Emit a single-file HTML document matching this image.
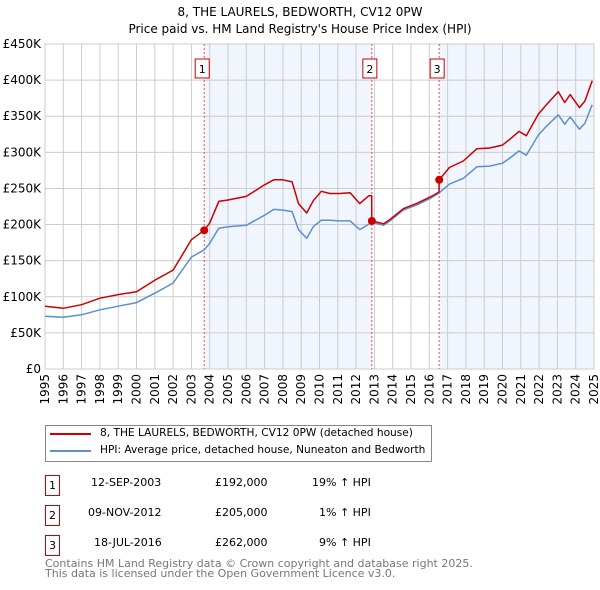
<!DOCTYPE html>
<html><head><meta charset="utf-8"><style>
body{margin:0;background:#fff;font-family:"DejaVu Sans","Liberation Sans",sans-serif;}
#wrap{position:relative;width:600px;height:590px;overflow:hidden;}
.t{position:absolute;font-size:11px;color:#000;white-space:nowrap;}
.lg{font-size:10.6px;}
.box{position:absolute;border:1px solid #c00;width:13px;height:19px;font-size:11px;text-align:center;line-height:19px;background:#fff;}
</style></head><body><div id="wrap">
<svg id="chart" width="600" height="420" style="position:absolute;left:0;top:0"></svg>
<div style="position:absolute;left:45px;top:425px;width:385px;height:35px;border:1px solid #888;"></div>
<div style="position:absolute;left:50px;top:433px;width:41px;height:2px;background:#c00"></div>
<div class="t lg" style="left:100px;top:427px;">8, THE LAURELS, BEDWORTH, CV12 0PW (detached house)</div>
<div style="position:absolute;left:50px;top:450px;width:41px;height:2px;background:#5b8fd4"></div>
<div class="t lg" style="left:100px;top:444px;">HPI: Average price, detached house, Nuneaton and Bedworth</div>
<div class="box" style="left:45px;top:475px;">1</div>
<div class="t" style="left:91px;top:476px;">12-SEP-2003</div>
<div class="t" style="left:215px;top:476px;">£192,000</div>
<div class="t" style="left:312px;top:476px;">19% ↑ HPI</div>
<div class="box" style="left:45px;top:505px;">2</div>
<div class="t" style="left:88px;top:506px;">09-NOV-2012</div>
<div class="t" style="left:215px;top:506px;">£205,000</div>
<div class="t" style="left:319px;top:506px;">1% ↑ HPI</div>
<div class="box" style="left:45px;top:535px;">3</div>
<div class="t" style="left:94px;top:536px;">18-JUL-2016</div>
<div class="t" style="left:215px;top:536px;">£262,000</div>
<div class="t" style="left:319px;top:536px;">9% ↑ HPI</div>
<div class="t" style="left:45px;top:559px;color:#777;line-height:10px;">Contains HM Land Registry data © Crown copyright and database right 2025.<br>This data is licensed under the Open Government Licence v3.0.</div>
</div>
<script>
const hpiYears=[1995,1996,1997,1998,1999,2000,2001,2002,2003,2003.7,2004,2004.5,2005,2006,2007,2007.5,2008,2008.5,2008.85,2009.3,2009.66,2010.1,2010.57,2011.1,2011.67,2012.2,2012.86,2013.5,2013.85,2014.58,2015.3,2016.04,2016.5,2017.1,2017.86,2018.6,2019.3,2020,2020.4,2020.9,2021.3,2021.96,2022.4,2023.05,2023.4,2023.7,2024.2,2024.5,2024.9];
const hpiValues=[73000,71600,75000,82000,87000,92000,105000,119000,155000,165000,174000,195000,197000,199000,213000,221000,220000,218000,193000,181000,197000,206000,206000,205000,205000,193000,203000,199000,205000,220000,227000,236000,243000,256000,264000,280000,281000,285000,292000,302000,296000,324000,336000,352000,339000,349000,332000,340000,366000];
const propYears=[1995,1996,1997,1998,1999,2000,2001,2002,2002.5,2003,2003.7,2004,2004.5,2005,2006,2007,2007.5,2008,2008.5,2008.85,2009.3,2009.66,2010.1,2010.57,2011.1,2011.67,2012.2,2012.7,2012.85,2012.86,2013.5,2013.85,2014.58,2015.3,2016.04,2016.53,2016.54,2017.1,2017.86,2018.6,2019.3,2020,2020.4,2020.9,2021.3,2021.96,2022.4,2023.05,2023.4,2023.7,2024.2,2024.5,2024.9];
const propValues=[87000,84000,89000,98000,103000,107000,123000,137000,158000,179000,192000,202000,232000,234000,239000,255000,262000,262000,259000,229000,216000,233000,246000,243000,243000,244000,229000,240000,240000,205000,201000,207000,222000,229000,238000,245000,262000,279000,288000,305000,306000,310000,318000,329000,323000,353000,366000,384000,369000,380000,362000,371000,399000];
const saleLabels=["1","2","3"];
const saleYears=[2003.7,2012.86,2016.54];
const salePrices=[192000,205000,262000];
const yTicks=[0,50000,100000,150000,200000,250000,300000,350000,400000,450000];
const yTickLabels=["£0","£50K","£100K","£150K","£200K","£250K","£300K","£350K","£400K","£450K"];
const xTicks=[1995,1996,1997,1998,1999,2000,2001,2002,2003,2004,2005,2006,2007,2008,2009,2010,2011,2012,2013,2014,2015,2016,2017,2018,2019,2020,2021,2022,2023,2024,2025];

const NS="http://www.w3.org/2000/svg";
const svg=document.getElementById('chart');
const X0=45,X1=594,Y0=369,Y1=44;
const xs=y=>X0+(y-1995)/30*(X1-X0);
const ys=v=>Y0-v/450000*(Y0-Y1);
function el(tag,attrs){const e=document.createElementNS(NS,tag);for(const k in attrs)e.setAttribute(k,attrs[k]);svg.appendChild(e);return e;}
let t=el('text',{x:300,y:16,'text-anchor':'middle','font-size':12,'font-family':'DejaVu Sans,Liberation Sans,sans-serif'});t.textContent='8, THE LAURELS, BEDWORTH, CV12 0PW';


t=el('text',{x:300,y:33,'text-anchor':'middle','font-size':12,'font-family':'DejaVu Sans,Liberation Sans,sans-serif'});t.textContent="Price paid vs. HM Land Registry's House Price Index (HPI)";


let r=el('rect',{x:xs(saleYears[0]),y:Y1,width:xs(saleYears[1])-xs(saleYears[0]),height:Y0-Y1,fill:'#eef3fc',opacity:0.8});


r=el('rect',{x:xs(saleYears[2]),y:Y1,width:X1-xs(saleYears[2]),height:Y0-Y1,fill:'#eef3fc',opacity:0.8});


yTicks.forEach((v,i)=>{
 let g=el('line',{x1:X0,x2:X1,y1:ys(v),y2:ys(v),stroke:'#ccc','stroke-width':1});
 
 
 let l=el('text',{x:X0-4,y:ys(v)+4,'text-anchor':'end','font-size':12,'font-family':'DejaVu Sans,Liberation Sans,sans-serif'});l.textContent=yTickLabels[i];
 
 
});
xTicks.forEach(y=>{
 let g=el('line',{x1:xs(y),x2:xs(y),y1:Y1,y2:Y0,stroke:'#ccc','stroke-width':1});
 
 
 let l=el('text',{x:0,y:0,'text-anchor':'end','font-size':12,'font-family':'DejaVu Sans,Liberation Sans,sans-serif',transform:`translate(${xs(y)+4},${Y0+5}) rotate(-90)`});l.textContent=y;
 
 
});
let ax=el('rect',{x:X0,y:Y1,width:X1-X0,height:Y0-Y1,fill:'none',stroke:'#ccc'});


saleYears.forEach((y,i)=>{
 let l=el('line',{x1:xs(y),x2:xs(y),y1:Y1,y2:Y0,stroke:'#e05050','stroke-width':1,'stroke-dasharray':'2,2'});
 
 
 let b=el('rect',{x:xs(y)-7-2,y:59,width:14,height:19,fill:'#fff',stroke:'#c00'});
 
 
 let tx=el('text',{x:xs(y)-2,y:73,'text-anchor':'middle','font-size':11,'font-family':'DejaVu Sans,Liberation Sans,sans-serif'});tx.textContent=saleLabels[i];
 
 
});
function line(xa,va,color,name){
 const d=xa.map((y,i)=>(i?'L':'M')+xs(y).toFixed(1)+','+ys(va[i]).toFixed(1)).join('');
 let p=el('path',{d:d,fill:'none',stroke:color,'stroke-width':1.5,'stroke-linejoin':'round'});
 
 
}
line(hpiYears,hpiValues,'#5b8fd4','hpi-line');
line(propYears,propValues,'#cc0000','property-price-line');
saleYears.forEach((y,i)=>{
 let c=el('circle',{cx:xs(y),cy:ys(salePrices[i]),r:4,fill:'#cc0000'});
 
 
});
</script></body></html>
